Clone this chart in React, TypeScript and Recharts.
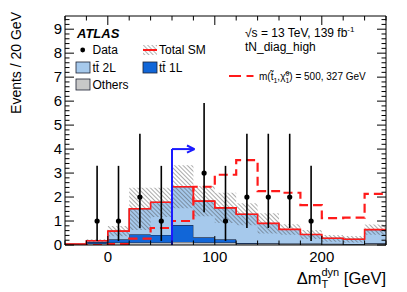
import React from "react";
import {
  ComposedChart,
  Area,
  Line,
  Scatter,
  ErrorBar,
  XAxis,
  YAxis,
  ReferenceLine,
} from "recharts";

// bin edges in GeV (20 GeV bins), values per bin
const binEdges = [-40, -20, 0, 20, 40, 60, 80, 100, 120, 140, 160, 180, 200, 220, 240, 260];
const others = [0.01, 0.06, 0.1, 0.1, 0.1, 0.13, 0.1, 0.1, 0.06, 0.06, 0.05, 0.05, 0.05, 0.04, 0.06];
const ttbar1L = [0.01, 0.06, 0.14, 0.35, 0.32, 0.7, 0.22, 0.14, 0.02, 0.01, 0.01, 0.01, 0.0, 0.0, 0.01];
const ttbar2L = [0.02, 0.06, 0.34, 1.06, 1.36, 1.6, 1.51, 1.31, 1.2, 0.83, 0.59, 0.38, 0.23, 0.2, 0.57];
const smUncertainty = [0.01, 0.06, 0.21, 0.88, 0.61, 0.9, 0.63, 0.63, 0.46, 0.42, 0.22, 0.19, 0.14, 0.14, 0.21];
const signal = [0, 0, 0.04, 0.27, 0.71, 1.0, 2.43, 2.93, 3.54, 2.25, 2.18, 1.66, 1.12, 1.14, 2.13];

// observed data (bin centres)
const dataX = [-10, 10, 30, 50, 90, 110, 130, 150, 170, 190];
const dataY = [1, 1, 2, 1, 3, 1, 2, 2, 2, 1];
const dataErrDown = [0.83, 0.83, 1.29, 0.83, 1.63, 0.83, 1.29, 1.29, 1.29, 0.83];
const dataErrUp = [2.3, 2.3, 2.64, 2.3, 2.92, 2.3, 2.64, 2.64, 2.64, 2.3];

// SR cut arrow
const cutValue = 60;
const cutArrowY = 4;
const cutArrowEnd = 81;

const X_DOMAIN: [number, number] = [-40, 260];
const Y_DOMAIN: [number, number] = [0, 9.55];
const xTicks = binEdges;
const yTicks = Array.from({ length: 48 }, (_, i) => (i * 2) / 10);
const xMajorLabels = [0, 100, 200];

const LIGHT_BLUE = "#a6c9ec";
const DARK_BLUE = "#1166d8";
const GREY = "#c8c8c8";
const OUTLINE = "#1c2233";
const RED = "#ff1a1a";
const FONT = "'Liberation Sans', Arial, Helvetica, sans-serif";

const hist = binEdges.map((x, i) => {
  const k = Math.min(i, others.length - 1);
  const total = others[k] + ttbar1L[k] + ttbar2L[k];
  return {
    x,
    others: others[k],
    tt1L: ttbar1L[k],
    tt2L: ttbar2L[k],
    total,
    band: [Math.max(0, total - smUncertainty[k]), total + smUncertainty[k]],
    signal: signal[k],
  };
});

const points = dataX.map((x, i) => ({ x, y: dataY[i], err: [dataErrDown[i], dataErrUp[i]] }));

function makeTick(side: "bottom" | "top" | "left" | "right") {
  return (props: any) => {
    const { x, y, payload } = props;
    const v = payload.value;
    const horizontal = side === "bottom" || side === "top";
    const major = horizontal ? xMajorLabels.includes(v) : Number.isInteger(Math.round(v * 1000) / 1000);
    const len = major ? 9 : 4.5;
    if (side === "bottom") {
      const ay = y - 6;
      return (
        <g>
          <line x1={x} y1={ay} x2={x} y2={ay - len} stroke="#000" strokeWidth={1} />
          {major && (
            <text x={x} y={y + 10.7} textAnchor="middle" fontSize={15} fontFamily={FONT} fill="#000">
              {v}
            </text>
          )}
        </g>
      );
    }
    if (side === "top") {
      return <line x1={x} y1={y} x2={x} y2={y + len} stroke="#000" strokeWidth={1} />;
    }
    if (side === "left") {
      const ax = x + 3;
      return (
        <g>
          <line x1={ax} y1={y} x2={ax + len} y2={y} stroke="#000" strokeWidth={1} />
          {major && (
            <text x={x} y={y + 5.3} textAnchor="end" fontSize={15} fontFamily={FONT} fill="#000">
              {Math.round(v)}
            </text>
          )}
        </g>
      );
    }
    return <line x1={x} y1={y} x2={x - len} y2={y} stroke="#000" strokeWidth={1} />;
  };
}

function Overlay() {
  return (
    <svg width={407} height={292} style={{ position: "absolute", left: 0, top: 0, pointerEvents: "none" }}>
      <defs>
        <pattern id="legHatch" patternUnits="userSpaceOnUse" width={3} height={3} patternTransform="rotate(-45)">
          <line x1={0} y1={0} x2={0} y2={3} stroke="#555" strokeWidth={0.9} />
        </pattern>
      </defs>
      <g fontFamily={FONT} fill="#000">
        <text x={77} y={37.5} fontSize={13} fontWeight="bold" fontStyle="italic">ATLAS</text>

        <circle cx={82.7} cy={50} r={2.4} fill="#000" />
        <text x={92.5} y={54.3} fontSize={12}>Data</text>

        <rect x={143} y={45} width={14} height={10} fill="url(#legHatch)" />
        <line x1={143} y1={50} x2={157} y2={50} stroke={RED} strokeWidth={2} />
        <text x={159} y={54.3} fontSize={12}>Total SM</text>

        <rect x={76} y={62} width={14} height={11} fill={LIGHT_BLUE} stroke={OUTLINE} strokeWidth={0.8} />
        <text x={92.5} y={71.5} fontSize={12}>tt̄ 2L</text>

        <rect x={143} y={62} width={14} height={11} fill={DARK_BLUE} stroke={OUTLINE} strokeWidth={0.8} />
        <text x={159} y={71.5} fontSize={12}>tt̄ 1L</text>

        <rect x={76} y={79} width={14} height={11} fill={GREY} stroke={OUTLINE} strokeWidth={0.8} />
        <text x={92.5} y={88.7} fontSize={12}>Others</text>

        <text x={245} y={37} fontSize={12}>
          √s = 13 TeV, 139 fb<tspan dy={-5} fontSize={8}>-1</tspan>
        </text>
        <text x={245} y={51} fontSize={12}>tN_diag_high</text>

        <line x1={229} y1={76} x2={241} y2={76} stroke={RED} strokeWidth={2} />
        <line x1={246.5} y1={76} x2={253.5} y2={76} stroke={RED} strokeWidth={2} />
        <text x={259} y={79.5} fontSize={10}>
          m(t̃<tspan dy={3} fontSize={7}>1</tspan>
          <tspan dy={-3}>,χ̃</tspan>
          <tspan dy={-4} fontSize={7}>0</tspan>
          <tspan dx={-3.9} dy={7} fontSize={7}>1</tspan>
          <tspan dy={-3}>) = 500, 327 GeV</tspan>
        </text>

        <text x={20.5} y={12} fontSize={14} textAnchor="end" transform="rotate(-90 20.5 12)">
          Events / 20 GeV
        </text>

        <text x={386} y={284} fontSize={16.5} textAnchor="end">
          Δm<tspan dy={4} fontSize={11}>T</tspan>
          <tspan dx={-6.7} dy={-12} fontSize={11}>dyn</tspan>
          <tspan dy={8}> [GeV]</tspan>
        </text>
      </g>
    </svg>
  );
}

export default function App() {
  return (
    <div style={{ position: "absolute", left: 0, top: 0, width: 407, height: 292, background: "#fff" }}>
      <ComposedChart width={407} height={292} data={hist} margin={{ top: 15, right: 20, bottom: 0, left: 0 }}>
        <defs>
          <pattern id="smHatch" patternUnits="userSpaceOnUse" width={3} height={3} patternTransform="rotate(-45)">
            <line x1={0} y1={0} x2={0} y2={3} stroke="#444" strokeWidth={0.9} />
          </pattern>
        </defs>
        <XAxis
          dataKey="x"
          type="number"
          domain={X_DOMAIN}
          allowDataOverflow
          ticks={xTicks}
          interval={0}
          tickSize={0}
          tickMargin={6}
          tickLine={false}
          tick={makeTick("bottom")}
          height={47}
          axisLine={{ stroke: "#000" }}
        />
        <XAxis
          xAxisId="top"
          orientation="top"
          dataKey="x"
          type="number"
          domain={X_DOMAIN}
          allowDataOverflow
          ticks={xTicks}
          interval={0}
          tickSize={0}
          tickMargin={0}
          tickLine={false}
          tick={makeTick("top")}
          height={1}
          axisLine={{ stroke: "#000" }}
        />
        <YAxis
          type="number"
          domain={Y_DOMAIN}
          allowDataOverflow
          ticks={yTicks}
          interval={0}
          tickSize={0}
          tickMargin={3}
          tickLine={false}
          tick={makeTick("left")}
          width={65}
          axisLine={{ stroke: "#000" }}
        />
        <YAxis
          yAxisId="right"
          orientation="right"
          type="number"
          domain={Y_DOMAIN}
          allowDataOverflow
          ticks={yTicks}
          interval={0}
          tickSize={0}
          tickMargin={0}
          tickLine={false}
          tick={makeTick("right")}
          width={1}
          axisLine={{ stroke: "#000" }}
        />

        <Area type="stepAfter" dataKey="others" stackId="sm" fill={GREY} fillOpacity={1} stroke={OUTLINE} strokeWidth={1} isAnimationActive={false} />
        <Area type="stepAfter" dataKey="tt1L" stackId="sm" fill={DARK_BLUE} fillOpacity={1} stroke={OUTLINE} strokeWidth={1} isAnimationActive={false} />
        <Area type="stepAfter" dataKey="tt2L" stackId="sm" fill={LIGHT_BLUE} fillOpacity={1} stroke={OUTLINE} strokeWidth={1} isAnimationActive={false} />
        <Area type="stepAfter" dataKey="band" fill="url(#smHatch)" fillOpacity={1} stroke="none" isAnimationActive={false} />
        <Line type="stepAfter" dataKey="total" stroke={RED} strokeWidth={1.6} dot={false} isAnimationActive={false} />
        <Line type="stepAfter" dataKey="signal" stroke={RED} strokeWidth={2.2} strokeDasharray="9 5" dot={false} isAnimationActive={false} />

        <ReferenceLine segment={[{ x: cutValue, y: 0 }, { x: cutValue, y: cutArrowY }]} stroke="#1a1aff" strokeWidth={2} />
        <ReferenceLine segment={[{ x: cutValue, y: cutArrowY }, { x: cutArrowEnd, y: cutArrowY }]} stroke="#1a1aff" strokeWidth={2} />
        <ReferenceLine segment={[{ x: cutArrowEnd - 7, y: cutArrowY + 0.15 }, { x: cutArrowEnd, y: cutArrowY }]} stroke="#1a1aff" strokeWidth={2} />
        <ReferenceLine segment={[{ x: cutArrowEnd - 7, y: cutArrowY - 0.15 }, { x: cutArrowEnd, y: cutArrowY }]} stroke="#1a1aff" strokeWidth={2} />

        <Scatter
          data={points}
          dataKey="y"
          isAnimationActive={false}
          shape={(p: any) => <circle cx={p.cx} cy={p.cy} r={2.6} fill="#000" />}
        >
          <ErrorBar dataKey="err" direction="y" width={0} stroke="#000" strokeWidth={1.6} isAnimationActive={false} />
        </Scatter>
      </ComposedChart>
      <Overlay />
    </div>
  );
}
